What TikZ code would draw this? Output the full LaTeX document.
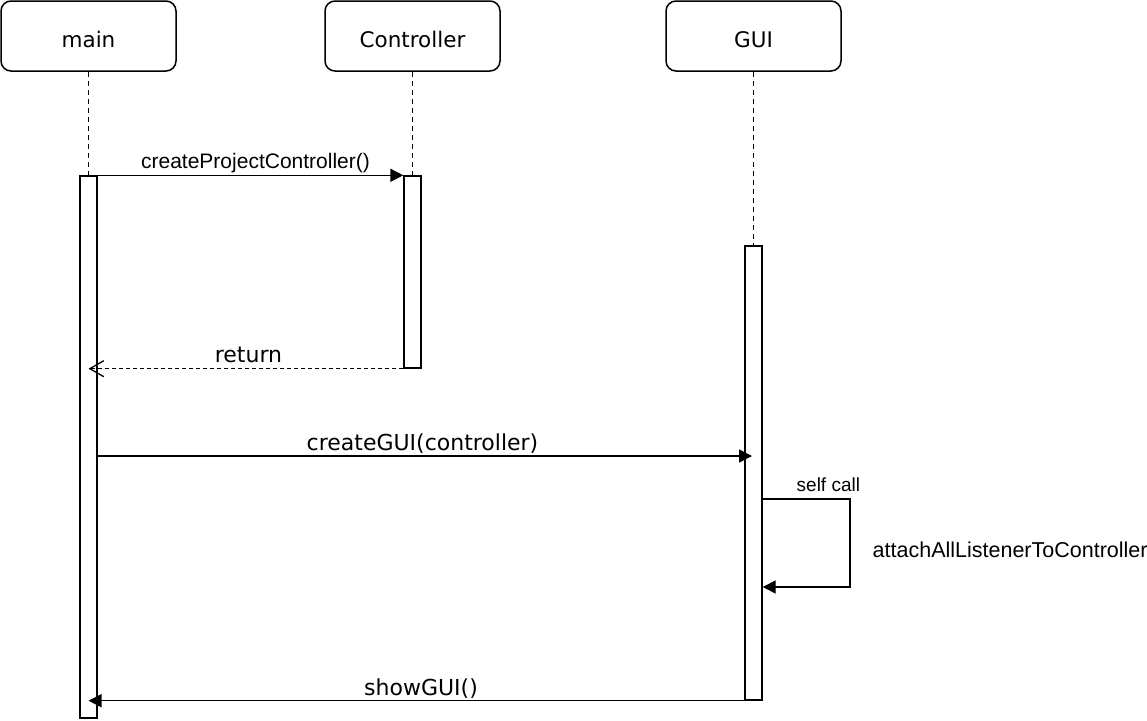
\documentclass[tikz,border=0pt]{standalone}
\usepackage{fontspec}
\setmainfont{DejaVu Sans}
\newfontfamily\arialf{Liberation Sans}
\usetikzlibrary{arrows.meta}
\newcommand{\boxtext}[1]{\raisebox{-11pt}[0pt][0pt]{#1}}
\begin{document}
\begin{tikzpicture}[x=1pt,y=-1pt,
  lifebox/.style={draw=black, line width=1.5pt, rounded corners=10pt, fill=white,
    minimum width=175pt, minimum height=70pt, inner sep=0pt,
    font=\fontsize{21.5}{25}\selectfont},
  actbox/.style={draw=black, line width=1.4pt, fill=white, minimum width=17pt, inner sep=0pt},
  lifeline/.style={line width=1.3pt, dash pattern=on 5pt off 4pt},
  msg/.style={line width=1.4pt, -{Triangle[length=13pt,width=13pt]}},
  retmsg/.style={line width=1.3pt, dash pattern=on 4pt off 3pt, -{Straight Barb[length=14pt,width=16pt,line width=1.3pt]}},
  vlabel/.style={anchor=base, inner sep=0pt, font=\fontsize{22}{26}\selectfont},
  alabel/.style={anchor=base, inner sep=0pt, font=\arialf\fontsize{21}{25}\selectfont},
  slabel/.style={anchor=base west, inner sep=0pt, font=\arialf\fontsize{19}{23}\selectfont}
]
\useasboundingbox[fill=white] (0,0) rectangle (1147,720);

% participants
\node[lifebox] (main) at (88.5,36) {\boxtext{main}};
\node[lifebox] (ctrl) at (412.5,36) {\boxtext{Controller}};
\node[lifebox] (gui) at (753.5,36) {\boxtext{GUI}};

% activation bars
\node[actbox, minimum height=542pt] (mainAct) at (88.5,447) {};
\node[actbox, minimum height=192pt] (ctrlAct) at (412.5,272) {};
\node[actbox, minimum height=454pt] (guiAct) at (753.5,473) {};

% lifelines
\draw[lifeline] (main.south) -- (mainAct.north);
\draw[lifeline] (ctrl.south -| ctrlAct.north) -- (ctrlAct.north);
\draw[lifeline] (gui.south -| guiAct.north) -- (guiAct.north);

% helper coordinates
\coordinate (yGUI) at (0,456);
\coordinate (guiIn) at (752,456);
\coordinate (ySelfA) at (0,499);
\coordinate (ySelfB) at (0,587);
\coordinate (selfA) at (850,499);
\coordinate (selfB) at (850,587);

% messages
\draw[msg] (mainAct.north east) -- (ctrlAct.north west);
\node[alabel] (lblCreateCtrl) at (255.5,168) {createProjectController()};

\draw[retmsg] (ctrlAct.south west) -- (mainAct.center |- ctrlAct.south west);
\node[vlabel] (lblReturn) at (248.5,362) {return};

\draw[msg] (mainAct.east |- yGUI) -- (guiIn);
\node[vlabel] (lblCreateGUI) at (422.5,450) {createGUI(controller)};

\draw[msg] (guiAct.east |- ySelfA) -- (selfA) -- (selfB) -- (guiAct.east |- ySelfB);
\node[slabel] (lblSelf) at (796.5,491) {self call};
\node[alabel, anchor=base west, font=\arialf\fontsize{21.5}{25}\selectfont] (lblAttach) at (872.5,557) {attachAllListenerToController};

\draw[msg] (guiAct.south west) -- (mainAct.center |- guiAct.south west);
\node[vlabel] (lblShow) at (421,695) {showGUI()};
\end{tikzpicture}
\end{document}
